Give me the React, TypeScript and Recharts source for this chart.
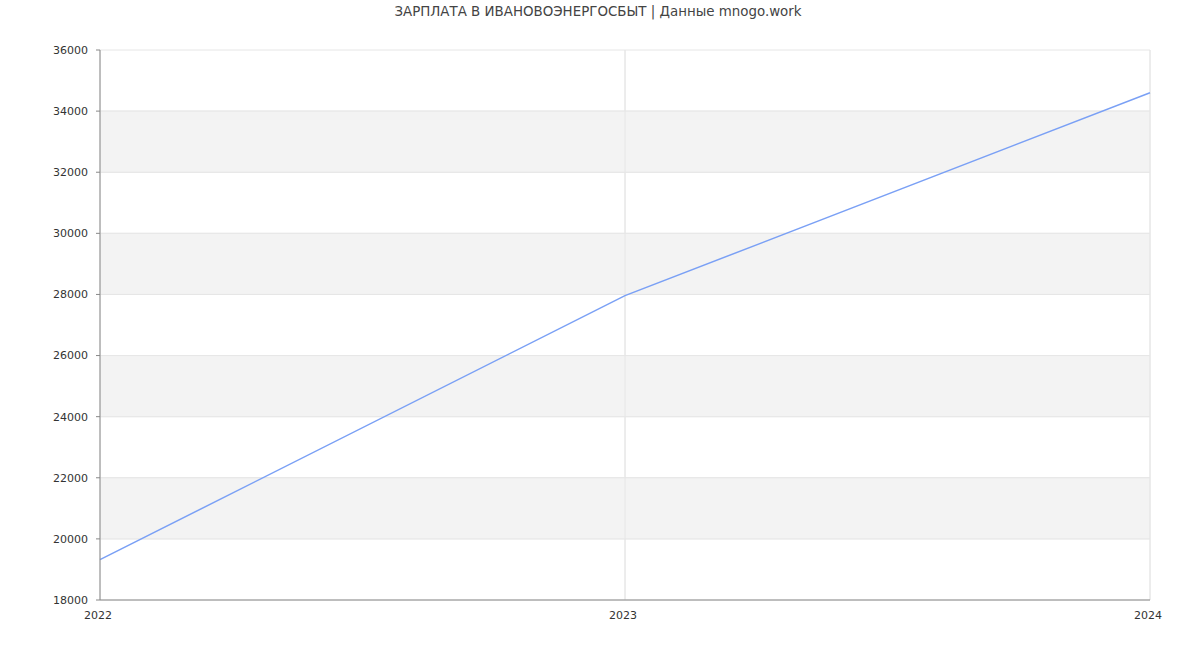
import React from "react";
import { LineChart, Line, XAxis, YAxis, CartesianGrid, ReferenceArea, ReferenceLine } from "recharts";

const years = [2022, 2023, 2024];
const salaries = [19320, 27960, 34600];
const yTicks = [18000, 20000, 22000, 24000, 26000, 28000, 30000, 32000, 34000, 36000];
const bandStarts = [20000, 24000, 28000, 32000];
const title = "ЗАРПЛАТА В ИВАНОВОЭНЕРГОСБЫТ | Данные mnogo.work";

const data = years.map((y, i) => ({ year: y, value: salaries[i] }));

export default function App() {
  const font = "DejaVu Sans, sans-serif";
  return (
    <div style={{ position: "absolute", left: 0, top: 0, width: 1200, height: 650, background: "#fff" }}>
      <div
        style={{
          position: "absolute",
          top: 4,
          left: -2,
          width: 1200,
          textAlign: "center",
          fontFamily: font,
          fontSize: 13.4,
          lineHeight: "16px",
          color: "#444",
        }}
      >
        {title}
      </div>
      <LineChart
        width={1200}
        height={650}
        data={data}
        margin={{ top: 50, right: 50, bottom: 30, left: 0 }}
      >
        <CartesianGrid stroke="#e6e6e6" strokeWidth={1} horizontal vertical />
        {bandStarts.map((b) => (
          <ReferenceArea key={b} y1={b} y2={b + 2000} fill="#f3f3f3" fillOpacity={1} stroke="#e6e6e6" strokeWidth={1} ifOverflow="hidden" />
        ))}
        {years.slice(1).map((y) => (
          <ReferenceLine key={y} x={y} stroke="#e6e6e6" strokeWidth={1} />
        ))}
        <XAxis
          dataKey="year"
          type="number"
          domain={[2022, 2024]}
          ticks={years}
          height={20}
          tickLine={false}
          tickSize={0}
          tickMargin={11}
          axisLine={{ stroke: "#888" }}
          tick={{ fill: "#333", fontSize: 11, fontFamily: font, dx: -2 }}
          allowDecimals={false}
        />
        <YAxis
          type="number"
          domain={[18000, 36000]}
          ticks={yTicks}
          width={100}
          tickSize={4}
          tickMargin={8}
          tickLine={{ stroke: "#888" }}
          axisLine={{ stroke: "#888" }}
          tick={{ fill: "#333", fontSize: 11, fontFamily: font }}
          interval={0}
        />
        <Line
          type="linear"
          dataKey="value"
          stroke="#7aa0f5"
          strokeWidth={1.5}
          dot={false}
          activeDot={false}
          isAnimationActive={false}
        />
      </LineChart>
    </div>
  );
}
